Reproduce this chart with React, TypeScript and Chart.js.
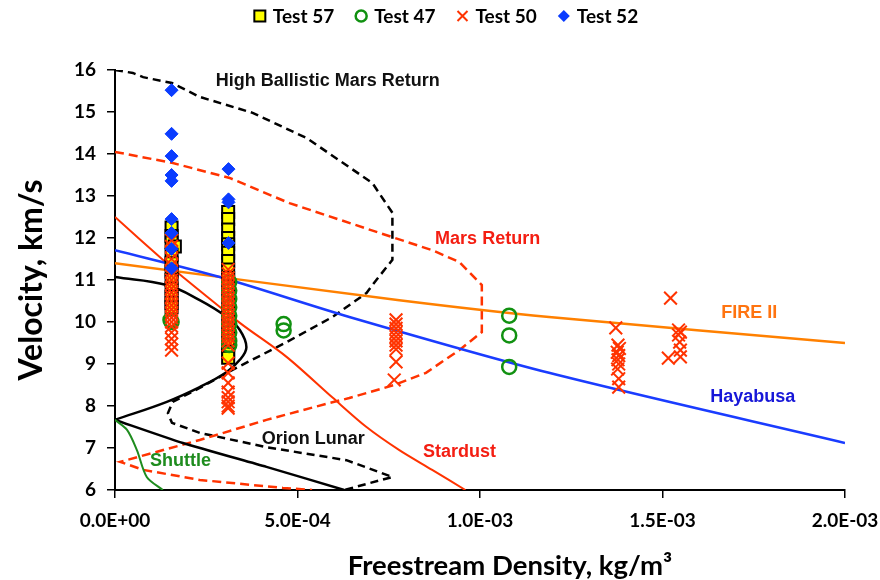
import { useEffect, useRef } from "react";
import { Chart, registerables } from "chart.js";

Chart.register(...registerables);

type Pt = [number, number]; // [freestream density kg/m^3, velocity km/s]

// ---- Arc-jet test conditions ----
const test57: Pt[] = [
  [1.55e-4, 12.25], [1.55e-4, 12.05], [1.55e-4, 11.9], [1.64e-4, 11.8], [1.55e-4, 11.6],
  [1.55e-4, 11.4], [1.55e-4, 11.2], [1.55e-4, 11.0], [1.55e-4, 10.8], [1.55e-4, 10.6],
  [1.55e-4, 10.45], [1.55e-4, 10.35],
  [3.1e-4, 12.62], [3.1e-4, 12.45], [3.1e-4, 12.2], [3.1e-4, 12.0], [3.1e-4, 11.85],
  [3.1e-4, 11.65], [3.1e-4, 11.45], [3.1e-4, 11.25], [3.1e-4, 11.05], [3.1e-4, 10.85],
  [3.1e-4, 10.65], [3.1e-4, 10.45], [3.1e-4, 10.25], [3.1e-4, 10.05], [3.1e-4, 9.85],
  [3.1e-4, 9.65], [3.1e-4, 9.45], [3.1e-4, 9.3], [3.1e-4, 9.15],
];

const test47: Pt[] = [
  [1.52e-4, 10.05], [1.55e-4, 10.0],
  [3.13e-4, 10.95], [3.13e-4, 10.75], [3.13e-4, 10.55], [3.13e-4, 10.35], [3.13e-4, 10.15],
  [3.13e-4, 9.95], [3.13e-4, 9.75], [3.13e-4, 9.55], [3.13e-4, 9.45],
  [4.62e-4, 9.95], [4.62e-4, 9.8],
  [1.08e-3, 10.15], [1.08e-3, 9.68], [1.08e-3, 8.93],
];

const test50: Pt[] = [
  [1.55e-4, 11.95], [1.55e-4, 11.8], [1.55e-4, 11.65], [1.55e-4, 11.5], [1.55e-4, 11.35],
  [1.55e-4, 11.2], [1.55e-4, 11.1], [1.55e-4, 11.0], [1.55e-4, 10.9], [1.55e-4, 10.8],
  [1.55e-4, 10.7], [1.55e-4, 10.6], [1.55e-4, 10.5], [1.55e-4, 10.4], [1.55e-4, 10.3],
  [1.55e-4, 10.2], [1.55e-4, 10.1], [1.55e-4, 10.0], [1.55e-4, 9.9], [1.55e-4, 9.75],
  [1.55e-4, 9.6], [1.55e-4, 9.47], [1.55e-4, 9.33],
  [3.1e-4, 11.25], [3.1e-4, 11.15], [3.1e-4, 11.05], [3.1e-4, 10.95], [3.1e-4, 10.85],
  [3.1e-4, 10.75], [3.1e-4, 10.65], [3.1e-4, 10.55], [3.1e-4, 10.45], [3.1e-4, 10.35],
  [3.1e-4, 10.25], [3.1e-4, 10.15], [3.1e-4, 10.05], [3.1e-4, 9.95], [3.1e-4, 9.85],
  [3.1e-4, 9.75], [3.1e-4, 9.65], [3.1e-4, 9.55], [3.1e-4, 9.45], [3.1e-4, 9.02],
  [3.1e-4, 8.79], [3.1e-4, 8.55], [3.1e-4, 8.33], [3.1e-4, 8.2], [3.1e-4, 8.1],
  [3.1e-4, 8.0], [3.1e-4, 7.95],
  [7.7e-4, 10.05], [7.7e-4, 9.95], [7.7e-4, 9.85], [7.7e-4, 9.75], [7.7e-4, 9.65],
  [7.7e-4, 9.55], [7.7e-4, 9.45], [7.7e-4, 9.35], [7.7e-4, 9.05], [7.65e-4, 8.62],
  [1.372e-3, 9.86], [1.378e-3, 9.45], [1.382e-3, 9.37], [1.376e-3, 9.28], [1.38e-3, 9.2],
  [1.378e-3, 9.1], [1.38e-3, 9.0], [1.377e-3, 8.88], [1.38e-3, 8.65], [1.38e-3, 8.45],
  [1.522e-3, 10.57], [1.544e-3, 9.81], [1.549e-3, 9.76], [1.544e-3, 9.69],
  [1.547e-3, 9.52], [1.549e-3, 9.33], [1.549e-3, 9.17], [1.516e-3, 9.14],
];

const test52: Pt[] = [
  [1.55e-4, 15.52], [1.55e-4, 14.48], [1.55e-4, 13.95], [1.55e-4, 13.5], [1.55e-4, 13.36],
  [1.55e-4, 12.45], [1.55e-4, 12.12], [1.55e-4, 11.74], [1.55e-4, 11.28],
  [3.11e-4, 13.64], [3.11e-4, 12.92], [3.11e-4, 12.85], [3.11e-4, 11.88],
];

// ---- Entry trajectories ----
const highBallisticMarsReturn: Pt[] = [
  [0, 16.0], [4.9e-5, 15.93], [7.7e-5, 15.83], [1.56e-4, 15.69], [2.32e-4, 15.36],
  [3.77e-4, 14.98], [5.25e-4, 14.38], [7.05e-4, 13.31], [7.6e-4, 12.6], [7.6e-4, 11.48],
  [7.16e-4, 11.0], [6.89e-4, 10.69], [5.96e-4, 10.12], [4.7e-4, 9.52], [3.22e-4, 8.86],
  [2.32e-4, 8.43], [1.58e-4, 8.1], [1.45e-4, 7.83], [1.56e-4, 7.6], [2.32e-4, 7.36],
  [4.15e-4, 7.02], [6.34e-4, 6.71], [7.6e-4, 6.31], [6.28e-4, 6.0],
];

const marsReturn: Pt[] = [
  [0, 14.05], [1.56e-4, 13.79], [3.14e-4, 13.43], [4.78e-4, 12.83], [7.6e-4, 12.02],
  [8.69e-4, 11.71], [9.43e-4, 11.43], [1.005e-3, 10.88], [1.005e-3, 9.76], [9.43e-4, 9.33],
  [8.52e-4, 8.79], [7.65e-4, 8.5], [6.42e-4, 8.19], [5.87e-4, 8.07], [4.15e-4, 7.67],
  [2.32e-4, 7.19], [1.4e-5, 6.67], [7.7e-5, 6.48], [2.32e-4, 6.24], [4.6e-4, 6.05],
  [5.4e-4, 6.0],
];

const orionLunarUpper: Pt[] = [
  [0, 11.07], [1.42e-4, 10.88], [2.32e-4, 10.52], [3.06e-4, 10.12], [3.42e-4, 9.81],
  [3.6e-4, 9.4], [3.42e-4, 9.1], [3.06e-4, 8.81], [2.32e-4, 8.45], [1.42e-4, 8.1], [0, 7.67],
];
const orionLunarLower: Pt[] = [
  [0, 7.67], [1.86e-4, 7.12], [4.15e-4, 6.55], [6.28e-4, 6.0],
];

const stardust: Pt[] = [
  [0, 12.5], [1.31e-4, 11.48], [1.86e-4, 11.07], [3.42e-4, 9.98], [4.7e-4, 9.17],
  [5.96e-4, 8.2], [6.89e-4, 7.5], [7.79e-4, 6.95], [8.69e-4, 6.48], [9.6e-4, 6.0],
];

const shuttle: Pt[] = [
  [0, 7.67], [3.3e-5, 7.43], [6e-5, 6.95], [8.7e-5, 6.31], [1.31e-4, 6.0],
];

const hayabusa: Pt[] = [
  [0, 11.71], [2.87e-4, 11.07], [6.42e-4, 10.12], [1.189e-3, 8.79], [2.0e-3, 7.12],
];

const fireII: Pt[] = [
  [0, 11.4], [7.79e-4, 10.52], [1.189e-3, 10.12], [2.0e-3, 9.5],
];

// Trajectory labels: text, colour, anchor in data coordinates (left / middle)
const curveLabels: { text: string; color: string; at: Pt }[] = [
  { text: "High Ballistic Mars Return", color: "#111111", at: [2.76e-4, 15.74] },
  { text: "Mars Return", color: "#F41E12", at: [8.77e-4, 11.98] },
  { text: "FIRE II", color: "#FF7410", at: [1.661e-3, 10.21] },
  { text: "Hayabusa", color: "#1717D8", at: [1.631e-3, 8.21] },
  { text: "Stardust", color: "#F41E12", at: [8.44e-4, 6.9] },
  { text: "Orion Lunar", color: "#111111", at: [4.02e-4, 7.21] },
  { text: "Shuttle", color: "#1E8C1E", at: [9.6e-5, 6.69] },
];

const X_MIN = 0;
const X_MAX = 2.0e-3;
const X_STEP = 5.0e-4;
const Y_MIN = 6;
const Y_MAX = 16;

const X_TITLE = "Freestream Density, kg/m³";
const Y_TITLE = "Velocity, km/s";

const RED = "#FF3300";
const TICK_FONT = "Lato";
const LABEL_FONT = "'Liberation Sans', Arial, sans-serif";

const xy = (pts: Pt[]) => pts.map(([x, y]) => ({ x, y }));

const fmtExp = (v: number) => {
  const [m, e] = Number(v).toExponential(1).split("e");
  const sign = e[0] === "-" ? "-" : "+";
  const digits = e.replace(/[+-]/, "").padStart(2, "0");
  return `${m}E${sign}${digits}`;
};

const legendItems = [
  { text: "Test 57", kind: "square" },
  { text: "Test 47", kind: "circle" },
  { text: "Test 50", kind: "cross" },
  { text: "Test 52", kind: "diamond" },
];

const legendPlugin = {
  id: "topLegend",
  afterDraw(chart: any) {
    const ctx: CanvasRenderingContext2D = chart.ctx;
    ctx.save();
    ctx.font = `bold 19px ${TICK_FONT}`;
    ctx.textBaseline = "middle";
    const y = 16;
    const textOffset = 13;
    const gapItem = 27;
    const widths = legendItems.map((it) => ctx.measureText(it.text).width);
    const total =
      widths.reduce((a, b) => a + b, 0) + legendItems.length * textOffset + (legendItems.length - 1) * gapItem + 6;
    let cx = chart.width / 2 + 6 - total / 2 + 6;
    legendItems.forEach((it, i) => {
      ctx.save();
      if (it.kind === "square") {
        ctx.fillStyle = "#FFFF00";
        ctx.strokeStyle = "#000";
        ctx.lineWidth = 2;
        ctx.fillRect(cx - 5.5, y - 5.5, 11, 11);
        ctx.strokeRect(cx - 5.5, y - 5.5, 11, 11);
      } else if (it.kind === "circle") {
        ctx.strokeStyle = "#119111";
        ctx.lineWidth = 2.5;
        ctx.beginPath();
        ctx.arc(cx, y, 5.5, 0, Math.PI * 2);
        ctx.stroke();
      } else if (it.kind === "cross") {
        ctx.strokeStyle = RED;
        ctx.lineWidth = 2;
        ctx.beginPath();
        ctx.moveTo(cx - 5, y - 5);
        ctx.lineTo(cx + 5, y + 5);
        ctx.moveTo(cx + 5, y - 5);
        ctx.lineTo(cx - 5, y + 5);
        ctx.stroke();
      } else {
        ctx.fillStyle = "#0A3CFF";
        ctx.beginPath();
        ctx.moveTo(cx, y - 6);
        ctx.lineTo(cx + 6, y);
        ctx.lineTo(cx, y + 6);
        ctx.lineTo(cx - 6, y);
        ctx.closePath();
        ctx.fill();
      }
      ctx.restore();
      ctx.fillStyle = "#000";
      ctx.textAlign = "left";
      ctx.fillText(it.text, cx + textOffset, y + 1);
      cx += textOffset + widths[i] + gapItem;
    });
    ctx.restore();
  },
};

// Curve names inside the plot plus the density-axis title
const curveLabelPlugin = {
  id: "curveLabels",
  afterDatasetsDraw(chart: any) {
    const ctx: CanvasRenderingContext2D = chart.ctx;
    const xs = chart.scales.x;
    const ys = chart.scales.y;
    ctx.save();
    ctx.font = `bold 18px ${LABEL_FONT}`;
    ctx.textBaseline = "middle";
    ctx.textAlign = "left";
    curveLabels.forEach((l) => {
      ctx.fillStyle = l.color;
      ctx.fillText(l.text, xs.getPixelForValue(l.at[0]), ys.getPixelForValue(l.at[1]));
    });
    ctx.restore();
  },
  afterDraw(chart: any) {
    const ctx: CanvasRenderingContext2D = chart.ctx;
    const area = chart.chartArea;
    ctx.save();
    ctx.font = `bold 27.5px ${TICK_FONT}`;
    ctx.fillStyle = "#000";
    ctx.textAlign = "center";
    ctx.textBaseline = "alphabetic";
    ctx.fillText(X_TITLE, (area.left + area.right) / 2 + 30, chart.height - 5);
    ctx.restore();
  },
};

const lineSet = (label: string, pts: Pt[], color: string, width: number, dash: number[] = [], tension = 0.3) => ({
  type: "line" as const,
  label,
  data: xy(pts),
  borderColor: color,
  backgroundColor: color,
  borderWidth: width,
  borderDash: dash,
  pointRadius: 0,
  pointHoverRadius: 0,
  fill: false,
  tension,
  showLine: true,
  order: 10,
});

export default function App() {
  const canvasRef = useRef<HTMLCanvasElement | null>(null);

  useEffect(() => {
    if (!canvasRef.current) return;
    const chart = new Chart(canvasRef.current, {
      type: "scatter",
      data: {
        datasets: [
          {
            label: "Test 52",
            data: xy(test52),
            pointStyle: "rectRot",
            pointRadius: 6.5,
            backgroundColor: "#0A3CFF",
            borderColor: "#0A3CFF",
            borderWidth: 1,
            order: 0,
          },
          {
            label: "Test 50",
            data: xy(test50),
            pointStyle: "crossRot",
            pointRadius: 9,
            borderColor: RED,
            backgroundColor: RED,
            borderWidth: 2,
            order: 1,
          },
          {
            label: "Test 47",
            data: xy(test47),
            pointStyle: "circle",
            pointRadius: 7,
            borderColor: "#119111",
            backgroundColor: "rgba(0,0,0,0)",
            borderWidth: 2.5,
            order: 2,
          },
          {
            label: "Test 57",
            data: xy(test57),
            pointStyle: "rect",
            pointRadius: 8.5,
            borderColor: "#000000",
            backgroundColor: "#FFFF00",
            borderWidth: 2,
            order: 3,
          },
          lineSet("Hayabusa", hayabusa, "#1A3CFF", 2.5),
          lineSet("FIRE II", fireII, "#FF8000", 2.5),
          lineSet("Stardust", stardust, RED, 2),
          lineSet("Shuttle", shuttle, "#1E8C1E", 2),
          lineSet("Orion Lunar", orionLunarUpper, "#000000", 2.5, [], 0.4),
          lineSet("Orion Lunar (descent)", orionLunarLower, "#000000", 2.5, [], 0.2),
          lineSet("Mars Return", marsReturn, RED, 2.5, [9, 5], 0),
          lineSet("High Ballistic Mars Return", highBallisticMarsReturn, "#000000", 2.5, [8, 5], 0),
        ] as any,
      },
      options: {
        animation: false,
        responsive: true,
        maintainAspectRatio: false,
        layout: { padding: { top: 70, right: 35, bottom: 0, left: 0 } },
        plugins: {
          legend: { display: false },
          tooltip: { enabled: false },
        },
        scales: {
          x: {
            type: "linear",
            min: X_MIN,
            max: X_MAX,
            afterFit: (s: any) => {
              s.height = 90;
              s.paddingLeft = 0;
              s.paddingRight = 0;
            },
            ticks: {
              stepSize: X_STEP,
              callback: (v: any) => fmtExp(Number(v)),
              color: "#000",
              padding: 11,
              maxRotation: 0,
              font: { family: TICK_FONT, size: 19, weight: "bold" },
            },
            grid: { display: true, drawOnChartArea: false, drawTicks: true, tickLength: 8, color: "#000", lineWidth: 1.5 },
            border: { display: true, color: "#000", width: 2 },
            title: { display: false },
          },
          y: {
            type: "linear",
            min: Y_MIN,
            max: Y_MAX,
            afterFit: (s: any) => {
              s.width = 115;
            },
            ticks: {
              stepSize: 1,
              color: "#000",
              padding: 11,
              font: { family: TICK_FONT, size: 19, weight: "bold" },
            },
            grid: { display: true, drawOnChartArea: false, drawTicks: true, tickLength: 8, color: "#000", lineWidth: 1.5 },
            border: { display: true, color: "#000", width: 2 },
            title: {
              display: true,
              text: Y_TITLE,
              color: "#000",
              font: { family: TICK_FONT, size: 32, weight: "bold" },
              padding: { top: 12, bottom: 0 },
            },
          },
        },
      },
      plugins: [curveLabelPlugin, legendPlugin],
    });
    return () => chart.destroy();
  }, []);

  return (
    <div style={{ position: "fixed", left: 0, top: 0, width: 880, height: 580, background: "#fff" }}>
      <canvas ref={canvasRef} />
    </div>
  );
}
